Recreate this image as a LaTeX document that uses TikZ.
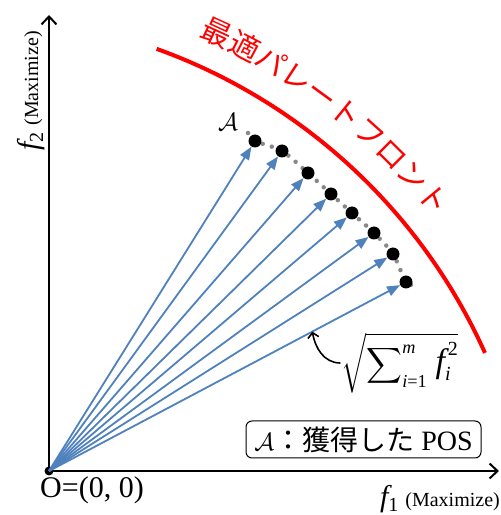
\documentclass[tikz,border=0pt]{standalone}
\usepackage{amsmath}
\usepackage{fontspec}
\setmainfont{Liberation Serif}
\newfontfamily\jpfont{Noto Sans CJK JP}
\usetikzlibrary{arrows.meta,decorations.text}
\definecolor{rayblue}{HTML}{4F81BD}
\definecolor{frontred}{HTML}{FF0000}
\definecolor{dotgrey}{HTML}{888888}
\tikzset{
  axisline/.style = {draw=black, line width=2pt, -{Straight Barb[length=8pt,width=15pt]}},
  ray/.style      = {draw=rayblue, line width=1.8pt, -{Triangle[length=13pt,width=10pt]}},
  sol/.style      = {circle, fill=black, minimum size=13pt, inner sep=0pt},
  origindot/.style= {circle, fill=black, minimum size=9pt, inner sep=0pt},
  frontline/.style= {draw=frontred, line width=4pt},
  guide/.style    = {draw=dotgrey, line width=4.5pt, line cap=round, dash pattern=on 0pt off 9.5pt},
  pointer/.style  = {draw=black, line width=1.6pt, -{Straight Barb[length=5pt,width=11pt]}},
  legendbox/.style= {draw=black, line width=1pt, rounded corners=6pt, minimum width=235pt,
                     minimum height=37pt, inner sep=2pt, font=\fontsize{28}{30}\selectfont},
}
\newcommand{\bigf}{\text{\fontsize{34}{34}\selectfont\itshape f}}
\begin{document}
\begin{tikzpicture}[x=1pt,y=1pt]
  \useasboundingbox (0,0) rectangle (501,515);
  % axes
  \node[origindot] (O) at (49,44) {};
  \coordinate (xtip) at (499,44);
  \coordinate (ytip) at (49,500);
  \draw[axisline] (O.center) -- (xtip);
  \draw[axisline] (O.center) -- (ytip);
  \node[font=\fontsize{30}{30}\selectfont] (olab) at (92,25) {O=(0, 0)};
  \node[anchor=base east,inner sep=0pt] (f1lab) at (500,9)
    {{\fontsize{30}{30}\selectfont\itshape f}\raisebox{-5pt}{\fontsize{20}{20}\selectfont 1}\hspace{7pt}%
     {\fontsize{20}{20}\selectfont (Maximize)}};
  \node[rotate=90,anchor=base east,inner sep=0pt] (f2lab) at (38,484)
    {{\fontsize{30}{30}\selectfont\itshape f}\raisebox{-5pt}{\fontsize{20}{20}\selectfont 2}\hspace{7pt}%
     {\fontsize{20}{20}\selectfont (Maximize)}};
  % optimal front
  \coordinate (fc) at (-37.3,-72.6);
  \draw[frontline] (fc) ++(70.2:572.6) arc[start angle=70.2,end angle=24.2,radius=572.6];
  \path[decorate,decoration={text along path,text color=frontred,
      text={|\jpfont\fontsize{30}{30}\selectfont|最適パレートフロント}}]
    (fc) ++(66.8:599) arc[start angle=66.8,end angle=25,radius=599];
  % obtained solutions
  \foreach \n/\x/\y in {1/255/374,2/282/364,3/308/342,4/331/321,5/352/302,6/374/282,7/393/261,8/406/233}
    \coordinate (p\n) at (\x,\y);
  \coordinate (gs) at (248,382);
  \coordinate (ge) at (416,230);
  \draw[guide] plot[smooth] coordinates {(gs) (p1) (p2) (p3) (p4) (p5) (p6) (p7) (p8) (ge)};
  \foreach \n in {1,...,8} {
    \node[sol] (s\n) at (p\n) {};
    \draw[ray] (O.center) -- (s\n);
  }
  \node[font=\fontsize{26}{26}\selectfont] (setA) at (228,393) {$\mathcal{A}$};
  % norm
  \path (O.center) -- (s8) coordinate[pos=0.75] (hit);
  \node[inner sep=1pt,font=\fontsize{26}{26}\selectfont] (norm) at (400,152)
    {$\sqrt{\displaystyle\sum\nolimits_{\text{\itshape i}\text{=1}}^{\text{\itshape m}}\,\bigf_{\text{\fontsize{20}{20}\selectfont\itshape i}}^{\,\text{\fontsize{20}{20}\selectfont 2}}}$};
  \draw[pointer] (norm.west) to[out=180,in=-80] (hit);
  % legend
  \node[legendbox] (legend) at (363.5,75.5) {$\mathcal{A}${\jpfont：獲得した} POS};
\end{tikzpicture}
\end{document}
